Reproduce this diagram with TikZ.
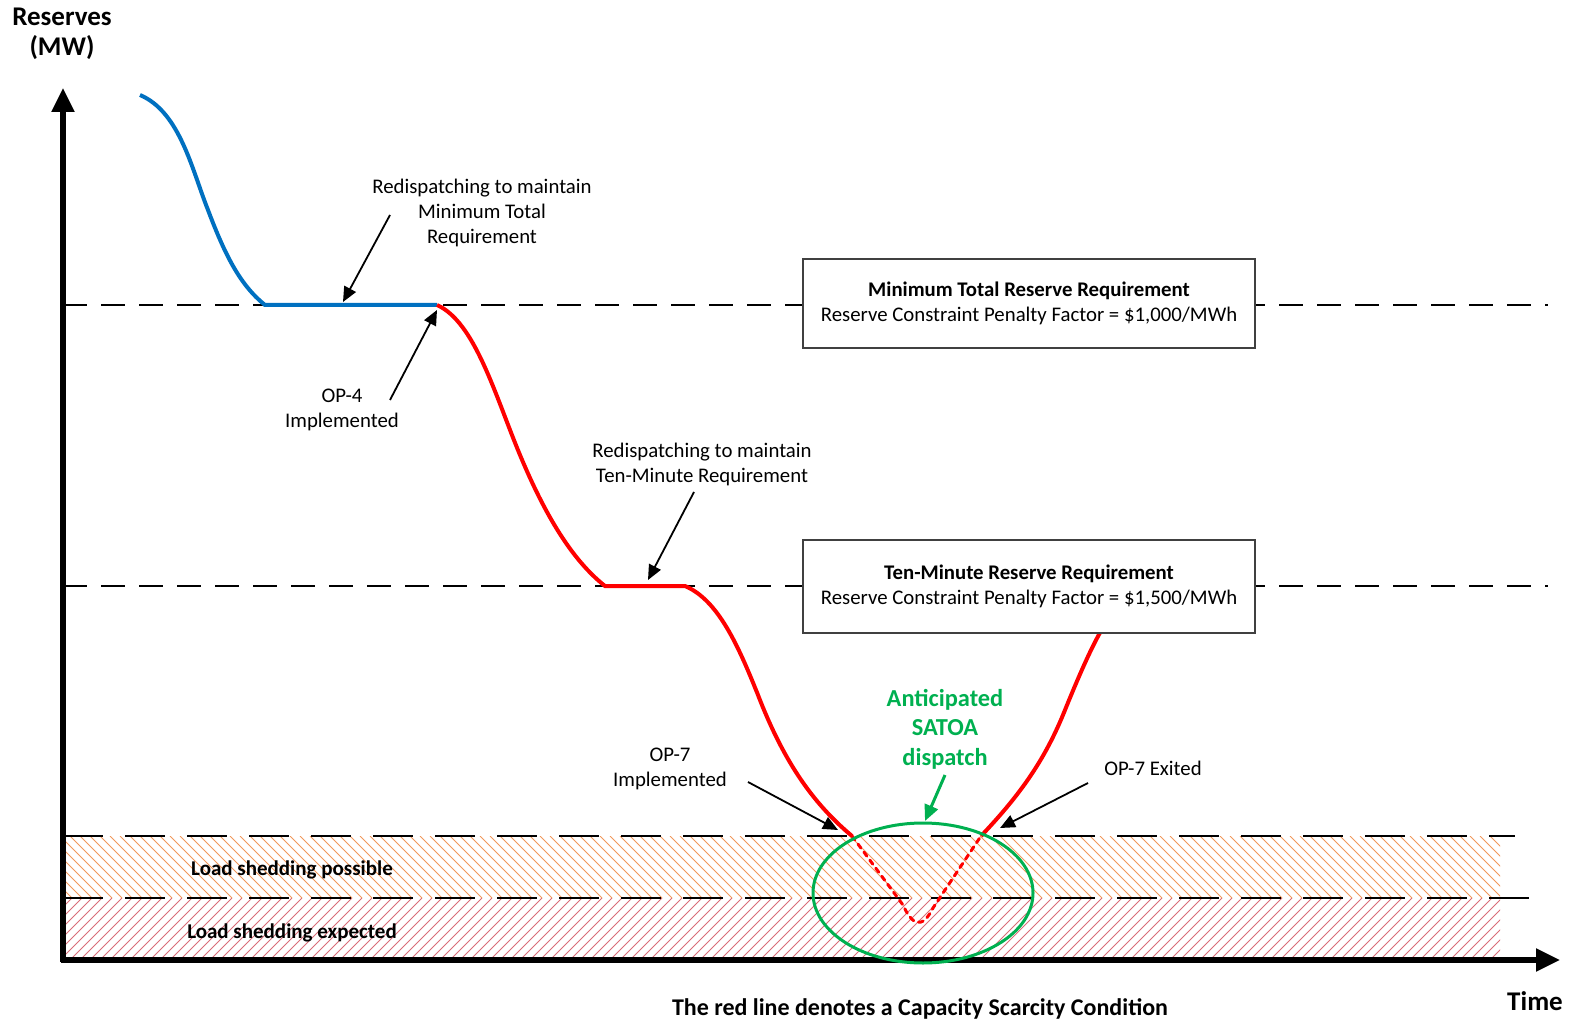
\documentclass[tikz,border=0pt]{standalone}
\usepackage{fontspec}
\setmainfont{Carlito}
\usetikzlibrary{positioning,arrows.meta,shapes}

\definecolor{curveblue}{RGB}{0,112,192}
\definecolor{curvered}{RGB}{255,0,0}
\definecolor{satoagreen}{RGB}{0,176,80}
\definecolor{hatchorange}{RGB}{237,125,49}
\definecolor{hatchred}{RGB}{205,60,75}

\begin{document}
\begin{tikzpicture}[
  x=0.5pt, y=-0.5pt,
  font=\fontsize{10.4}{12.5}\selectfont,
  lbl/.style={align=center, inner sep=0pt},
  ttl/.style={lbl, font=\fontsize{13.5}{15}\selectfont\bfseries},
  shed/.style={lbl, font=\fontsize{10.5}{12}\selectfont\bfseries},
  req/.style={rectangle, draw=black!75, line width=0.6pt, fill=white,
              minimum width=226pt, align=center},
  lvl/.style={draw=black, line width=1pt, dash pattern=on 12pt off 7pt},
  lvlshed/.style={draw=black, line width=1pt, dash pattern=on 20pt off 11pt},
  axis/.style={draw=black, line width=2.6pt, -{Triangle[length=12pt,width=11pt]}},
  note/.style={draw=black, line width=0.9pt, -{Triangle[length=7.5pt,width=6.5pt]}},
  okline/.style={draw=curveblue, line width=2pt},
  csc/.style={draw=curvered, line width=2pt},
  cscdot/.style={draw=curvered, line width=1.5pt, dash pattern=on 2.5pt off 2.5pt, line cap=round},
  hatchA/.style={draw=hatchorange!80, line width=0.45pt},
  hatchB/.style={draw=hatchred!75, line width=0.45pt}
]
\useasboundingbox (0,0) rectangle (1573,1021);

% load shedding bands
\begin{scope}
  \clip (63,836) rectangle (1500,898);
  \foreach \x in {-70,-60,...,1500} \draw[hatchA] (\x,836) -- ++(62,62);
\end{scope}
\begin{scope}
  \clip (63,898) rectangle (1500,960);
  \foreach \x in {-70,-60,...,1500} \draw[hatchB] (\x,960) -- ++(62,-62);
\end{scope}

\draw[lvl] (63,305) -- (1548,305);
\draw[lvl] (63,586) -- (1548,586);
\draw[lvlshed] (63,836) -- (1515,836);
\draw[lvlshed] (63,898) -- (1470,898) -- (1530,898);

\coordinate (start) at (140,95);
\coordinate (mtA) at (265,305);
\coordinate (mtB) at (437,305);
\coordinate (tmA) at (605,586);
\coordinate (tmB) at (685,586);
\coordinate (op7in) at (852,836);
\coordinate (low) at (918,924);
\coordinate (op7out) at (981,836);
\coordinate (recov) at (1104,626);

\draw[okline] (start) .. controls (180,112) and (192,170) .. (208,210)
  .. controls (225,255) and (240,285) .. (mtA) -- (mtB);
\draw[csc] (mtB) .. controls (475,322) and (495,395) .. (520,455)
  .. controls (545,515) and (572,560) .. (tmA) -- (tmB)
  .. controls (718,600) and (738,645) .. (758,695)
  .. controls (785,765) and (815,805) .. (op7in);
\draw[cscdot] (op7in) -- (903,905) .. controls (912,925) and (922,930) .. (933,908) -- (op7out);
\draw[csc] (op7out) .. controls (1020,795) and (1045,760) .. (1065,710)
  .. controls (1082,668) and (1095,640) .. (recov);

\node[req] (mtr) at (1029,303.5) [minimum height=44.5pt]
  {\textbf{Minimum Total Reserve Requirement}\\Reserve Constraint Penalty Factor = \$1,000/MWh};
\node[req] (tmr) at (1029,586.5) [minimum height=46.5pt]
  {\textbf{Ten-Minute Reserve Requirement}\\Reserve Constraint Penalty Factor = \$1,500/MWh};

\draw[axis] (63,962) -- (63,88);
\draw[axis] (61,960) -- (1560,960);

\node[ttl] (yl) at (62,34) {Reserves\\(MW)};
\node[ttl] (xl) at (1535,1001) {Time};
\node[lbl, font=\fontsize{12}{14}\selectfont\bfseries] (cap) at (920,1009)
  {The red line denotes a Capacity Scarcity Condition};
\node[shed] (shpos) at (292,870) {Load shedding possible};
\node[shed] (shexp) at (292,933) {Load shedding expected};

\node[lbl] (rdmt) at (482,213) {Redispatching to maintain\\Minimum Total\\Requirement};
\node[lbl] (op4) at (342,410) {OP-4\\Implemented};
\node[lbl] (rdtm) at (702,464) {Redispatching to maintain\\Ten-Minute Requirement};
\node[lbl] (op7i) at (670,769) {OP-7\\Implemented};
\node[lbl] (op7x) at (1153,768) {OP-7 Exited};
\node[lbl, font=\fontsize{12.2}{14.75}\selectfont\bfseries, text=satoagreen] (satoa) at (945,729)
  {Anticipated\\SATOA\\dispatch};

\coordinate (a1) at (390,215);
\coordinate (a1e) at (343,302);
\coordinate (a2) at (390,400);
\coordinate (a2e) at (437,310);
\coordinate (a3) at (694,492);
\coordinate (a3e) at (648,580);
\coordinate (a4) at (748,782);
\coordinate (a4e) at (838,830);
\coordinate (a5) at (1088,783);
\coordinate (a5e) at (1000,828);
\coordinate (g1) at (945,775);
\coordinate (g1e) at (925,821);

\draw[note] (a1) -- (a1e);
\draw[note] (a2) -- (a2e);
\draw[note] (a3) -- (a3e);
\draw[note] (a4) -- (a4e);
\draw[note] (a5) -- (a5e);
\draw[draw=satoagreen, line width=1.5pt, -{Triangle[length=8pt,width=7pt]}] (g1) -- (g1e);

\draw[draw=satoagreen, line width=1.5pt] (923,893) ellipse [x radius=55pt, y radius=35pt];
\end{tikzpicture}
\end{document}
